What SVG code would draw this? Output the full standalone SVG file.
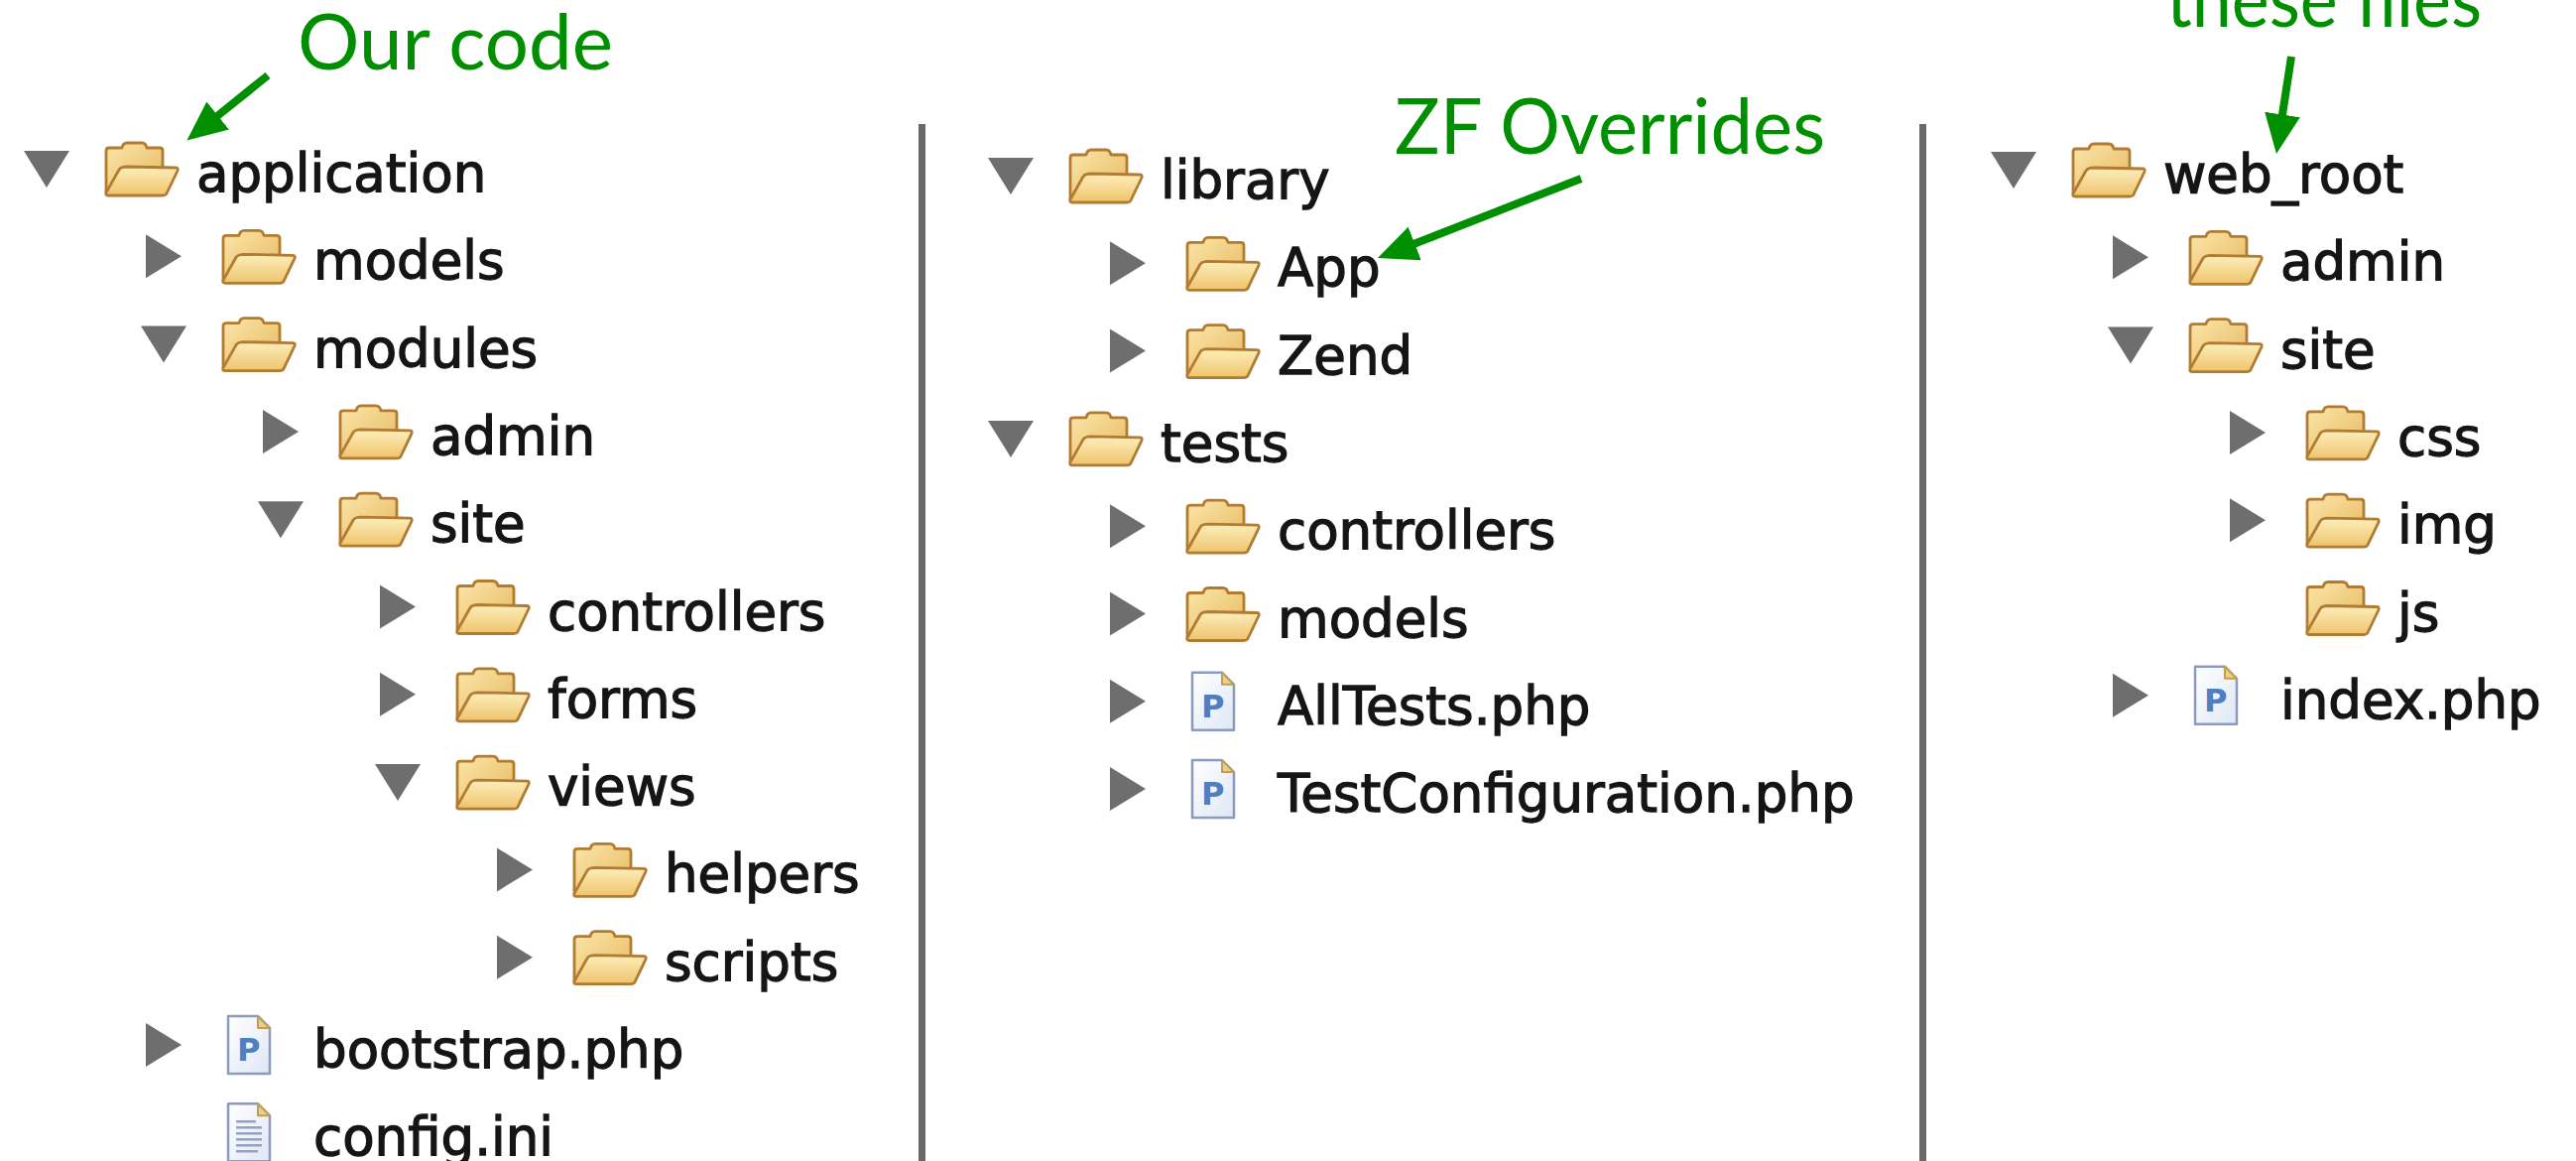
<svg xmlns="http://www.w3.org/2000/svg" width="2597" height="1170" viewBox="0 0 2597 1170">
<style>
.lbl{font-family:"DejaVu Sans","Liberation Sans",sans-serif;font-size:53px;fill:#151515;stroke:#151515;stroke-width:1.3px}
.tri{fill:#6e6e6e}
.ann{font-family:Lato,"Open Sans",sans-serif;font-size:77px;fill:#008f00}
.arr{stroke:#008f00;stroke-width:8;fill:none}
.sep{fill:#696969}
</style>
<defs>
<linearGradient id="gb" x1="0" y1="0" x2="1" y2="1"><stop offset="0" stop-color="#fbe6aa"/><stop offset="1" stop-color="#e6b85e"/></linearGradient>
<linearGradient id="gf" x1="0" y1="0" x2="0" y2="1"><stop offset="0" stop-color="#fdeebb"/><stop offset="1" stop-color="#eec46c"/></linearGradient>
<linearGradient id="gp" x1="0" y1="0" x2="1" y2="1"><stop offset="0" stop-color="#ffffff"/><stop offset="1" stop-color="#dfe7f5"/></linearGradient>
<symbol id="folder" viewBox="0 0 78 58" overflow="visible">
<path d="M4,10 Q4,7 7,7 L20,7 Q21,2 25,2 L40,2 Q44,2 45,7 L58,7 Q61,7 61,10 L61,52 L4,52 Z" fill="url(#gb)" stroke="#b27b32" stroke-width="2.8" stroke-linejoin="round"/>
<path d="M25,26 L74,27 Q77,27 76,30 L65,53 Q64,55 61,55 L6,55 Q3,55 4,52 L17,29 Q19,26 25,26 Z" fill="url(#gf)" stroke="#b27b32" stroke-width="2.8" stroke-linejoin="round"/>
</symbol>
<symbol id="php" viewBox="0 0 46 62" overflow="visible">
<path d="M2,2 L32,2 L44,14 L44,60 L2,60 Z" fill="url(#gp)" stroke="#8c9bbd" stroke-width="2.5" stroke-linejoin="round"/>
<path d="M32,2 L32,14 L44,14 Z" fill="#e9cf87" stroke="#bf9f55" stroke-width="2" stroke-linejoin="round"/>
<text x="11" y="47" font-family="DejaVu Sans,sans-serif" font-weight="bold" font-size="32" fill="#4f7fbf">P</text>
</symbol>
<symbol id="ini" viewBox="0 0 46 62" overflow="visible">
<path d="M2,2 L32,2 L44,14 L44,60 L2,60 Z" fill="url(#gp)" stroke="#8c9bbd" stroke-width="2.5" stroke-linejoin="round"/>
<path d="M32,2 L32,14 L44,14 Z" fill="#e9cf87" stroke="#bf9f55" stroke-width="2" stroke-linejoin="round"/>
<path d="M10,20 H30 M10,26 H36 M10,32 H36 M10,38 H36 M10,44 H36 M10,50 H32" stroke="#8fa3c8" stroke-width="2.5" fill="none"/>
</symbol>
<path id="td" d="M-23,-18 L23,-18 L0,19 Z"/>
<path id="tr" d="M-18,-22 L18,0 L-18,22 Z"/>
<marker id="ah" markerUnits="userSpaceOnUse" markerWidth="40" markerHeight="36" viewBox="0 0 40 36" refX="4" refY="18" orient="auto"><path d="M0,0 L40,18 L0,36 Z" fill="#008f00"/></marker>
</defs>
<rect width="2597" height="1170" fill="#ffffff"/>

<g id="separators">
<rect class="sep" x="926" y="125" width="7" height="1045"/>
<rect class="sep" x="1935" y="125" width="7" height="1045"/>
</g>

<g id="annotations">
<text class="ann" x="300" y="70" textLength="318" lengthAdjust="spacingAndGlyphs">Our code</text>
<text class="ann" x="1406" y="155" textLength="434" lengthAdjust="spacingAndGlyphs">ZF Overrides</text>
<text class="ann" x="2184" y="27" textLength="318" lengthAdjust="spacingAndGlyphs">these files</text>
</g>

<g id="connectors">
<line class="arr" x1="270" y1="76" x2="216.5" y2="119" marker-end="url(#ah)"/>
<line class="arr" x1="1594" y1="180" x2="1422.5" y2="246.9" marker-end="url(#ah)"/>
<line class="arr" x1="2310" y1="57" x2="2300.4" y2="119.4" marker-end="url(#ah)"/>
</g>

<!-- Column 1 -->
<g id="n-application"><use href="#td" class="tri" x="47" y="170"/><use href="#folder" x="103" y="142" width="78" height="58"/><text class="lbl" x="198" y="193">application</text></g>
<g id="n-models"><use href="#tr" class="tri" x="165" y="258.3"/><use href="#folder" x="221" y="230.3" width="78" height="58"/><text class="lbl" x="316" y="281.3">models</text></g>
<g id="n-modules"><use href="#td" class="tri" x="165" y="346.6"/><use href="#folder" x="221" y="318.6" width="78" height="58"/><text class="lbl" x="316" y="369.6">modules</text></g>
<g id="n-admin"><use href="#tr" class="tri" x="283" y="434.9"/><use href="#folder" x="339" y="406.9" width="78" height="58"/><text class="lbl" x="434" y="457.9">admin</text></g>
<g id="n-site"><use href="#td" class="tri" x="283" y="523.2"/><use href="#folder" x="339" y="495.2" width="78" height="58"/><text class="lbl" x="434" y="546.2">site</text></g>
<g id="n-controllers"><use href="#tr" class="tri" x="401" y="611.5"/><use href="#folder" x="457" y="583.5" width="78" height="58"/><text class="lbl" x="552" y="634.5">controllers</text></g>
<g id="n-forms"><use href="#tr" class="tri" x="401" y="699.8"/><use href="#folder" x="457" y="671.8" width="78" height="58"/><text class="lbl" x="552" y="722.8">forms</text></g>
<g id="n-views"><use href="#td" class="tri" x="401" y="788.1"/><use href="#folder" x="457" y="760.1" width="78" height="58"/><text class="lbl" x="552" y="811.1">views</text></g>
<g id="n-helpers"><use href="#tr" class="tri" x="519" y="876.4"/><use href="#folder" x="575" y="848.4" width="78" height="58"/><text class="lbl" x="670" y="899.4">helpers</text></g>
<g id="n-scripts"><use href="#tr" class="tri" x="519" y="964.7"/><use href="#folder" x="575" y="936.7" width="78" height="58"/><text class="lbl" x="670" y="987.7">scripts</text></g>
<g id="n-bootstrap"><use href="#tr" class="tri" x="165" y="1053"/><use href="#php" x="228" y="1022" width="46" height="62"/><text class="lbl" x="316" y="1076">bootstrap.php</text></g>
<g id="n-config"><use href="#ini" x="228" y="1110.3" width="46" height="62"/><text class="lbl" x="316" y="1164.3">config.ini</text></g>

<!-- Column 2 -->
<g id="n-library"><use href="#td" class="tri" x="1019" y="177"/><use href="#folder" x="1075" y="149" width="78" height="58"/><text class="lbl" x="1170" y="200">library</text></g>
<g id="n-App"><use href="#tr" class="tri" x="1137" y="265.3"/><use href="#folder" x="1193" y="237.3" width="78" height="58"/><text class="lbl" x="1288" y="288.3">App</text></g>
<g id="n-Zend"><use href="#tr" class="tri" x="1137" y="353.6"/><use href="#folder" x="1193" y="325.6" width="78" height="58"/><text class="lbl" x="1288" y="376.6">Zend</text></g>
<g id="n-tests"><use href="#td" class="tri" x="1019" y="441.9"/><use href="#folder" x="1075" y="413.9" width="78" height="58"/><text class="lbl" x="1170" y="464.9">tests</text></g>
<g id="n-tests-controllers"><use href="#tr" class="tri" x="1137" y="530.2"/><use href="#folder" x="1193" y="502.2" width="78" height="58"/><text class="lbl" x="1288" y="553.2">controllers</text></g>
<g id="n-tests-models"><use href="#tr" class="tri" x="1137" y="618.5"/><use href="#folder" x="1193" y="590.5" width="78" height="58"/><text class="lbl" x="1288" y="641.5">models</text></g>
<g id="n-AllTests"><use href="#tr" class="tri" x="1137" y="706.8"/><use href="#php" x="1200" y="675.8" width="46" height="62"/><text class="lbl" x="1288" y="729.8">AllTests.php</text></g>
<g id="n-TestConfiguration"><use href="#tr" class="tri" x="1137" y="795.1"/><use href="#php" x="1200" y="764.1" width="46" height="62"/><text class="lbl" x="1288" y="818.1">TestConfiguration.php</text></g>

<!-- Column 3 -->
<g id="n-web_root"><use href="#td" class="tri" x="2030" y="171"/><use href="#folder" x="2086" y="143" width="78" height="58"/><text class="lbl" x="2181" y="194">web_root</text></g>
<g id="n-web-admin"><use href="#tr" class="tri" x="2148" y="259.3"/><use href="#folder" x="2204" y="231.3" width="78" height="58"/><text class="lbl" x="2299" y="282.3">admin</text></g>
<g id="n-web-site"><use href="#td" class="tri" x="2148" y="347.6"/><use href="#folder" x="2204" y="319.6" width="78" height="58"/><text class="lbl" x="2299" y="370.6">site</text></g>
<g id="n-css"><use href="#tr" class="tri" x="2266" y="435.9"/><use href="#folder" x="2322" y="407.9" width="78" height="58"/><text class="lbl" x="2417" y="458.9">css</text></g>
<g id="n-img"><use href="#tr" class="tri" x="2266" y="524.2"/><use href="#folder" x="2322" y="496.2" width="78" height="58"/><text class="lbl" x="2417" y="547.2">img</text></g>
<g id="n-js"><use href="#folder" x="2322" y="584.5" width="78" height="58"/><text class="lbl" x="2417" y="635.5">js</text></g>
<g id="n-index"><use href="#tr" class="tri" x="2148" y="700.8"/><use href="#php" x="2211" y="669.8" width="46" height="62"/><text class="lbl" x="2299" y="723.8">index.php</text></g>
</svg>
